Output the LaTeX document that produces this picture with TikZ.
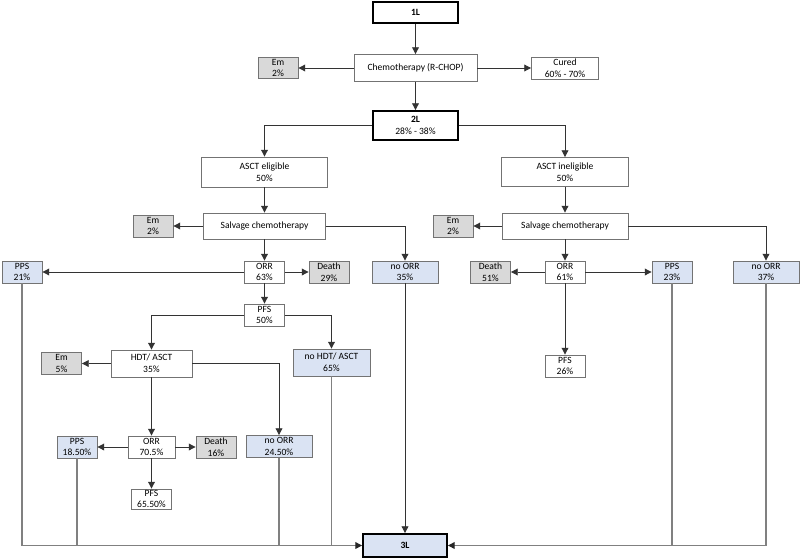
\documentclass[tikz,border=0pt]{standalone}
\usepackage{fontspec}
\setmainfont{Carlito}
\definecolor{paleblue}{RGB}{218,227,243}
\definecolor{palegrey}{RGB}{217,217,217}
\usetikzlibrary{arrows.meta}

\begin{document}
\begin{tikzpicture}[x=0.025cm, y=-0.025cm,
  box/.style={draw=black!55, line width=0.6pt, fill=white, align=center, inner sep=0.5pt,
              minimum width=1cm, minimum height=0.55cm, font=\fontsize{6.8}{8.3}\selectfont},
  exitbox/.style={box, fill=palegrey},
  nextbox/.style={box, fill=paleblue},
  stage/.style={box, draw=black, line width=1.3pt},
  link/.style={draw=black!80, line width=0.65pt, -{Triangle[length=0.17cm, width=0.17cm]}},
  feed/.style={draw=black!50, line width=0.8pt},
  intake/.style={-{Triangle[length=0.17cm, width=0.17cm, color=black!85]}}
]
\useasboundingbox (0,0) rectangle (800,558);

% First line
\node[stage, minimum width=2.125cm, minimum height=0.525cm] (l1) at (415.5,12.5) {\textbf{1L}};
\node[box, minimum width=3.075cm, minimum height=0.675cm] (chemo) at (415.5,68) {Chemotherapy (R-CHOP)};
\node[exitbox, minimum height=0.525cm] (em1) at (278,68) {Em\\2\%};
\node[box, minimum width=1.675cm] (cured) at (565,68) {Cured\\60\% - 70\%};

% Second line
\node[stage, minimum width=2.125cm, minimum height=0.725cm] (l2) at (415.5,125.5) {\textbf{2L}\\28\% - 38\%};

% ASCT eligible branch
\node[box, minimum width=3.15cm, minimum height=0.75cm] (elig) at (264.5,172) {ASCT eligible\\50\%};
\node[box, minimum width=3.05cm, minimum height=0.65cm] (salvL) at (264.5,226) {Salvage chemotherapy};
\node[exitbox] (emL) at (153,226) {Em\\2\%};
\node[nextbox, minimum width=1.65cm] (norr35) at (405,272) {no ORR\\35\%};
\node[nextbox] (pps21) at (22,272) {PPS\\21\%};
\node[box] (orr63) at (264.5,272) {ORR\\63\%};
\node[exitbox] (death29) at (329,272) {Death\\29\%};
\node[box] (pfs50) at (264.5,315) {PFS\\50\%};
\node[box, minimum width=2.025cm, minimum height=0.675cm] (hdt) at (151.5,363.5) {HDT/ ASCT\\35\%};
\node[exitbox] (em5) at (61.5,363.5) {Em\\5\%};
\node[nextbox, minimum width=1.925cm, minimum height=0.675cm] (nohdt) at (331.5,362.5) {no HDT/ ASCT\\65\%};
\node[box, minimum width=1.175cm] (orr705) at (151.5,447) {ORR\\70.5\%};
\node[nextbox] (pps185) at (77,447) {PPS\\18.50\%};
\node[exitbox] (death16) at (216,447) {Death\\16\%};
\node[nextbox, minimum width=1.65cm] (norr245) at (279,446.5) {no ORR\\24.50\%};
\node[box, minimum height=0.5cm] (pfs655) at (151.5,499) {PFS\\65.50\%};

% ASCT ineligible branch
\node[box, minimum width=3.175cm, minimum height=0.725cm] (inelig) at (565,172) {ASCT ineligible\\50\%};
\node[box, minimum width=3.15cm, minimum height=0.65cm] (salvR) at (565,226) {Salvage chemotherapy};
\node[exitbox] (emR) at (453,226) {Em\\2\%};
\node[exitbox] (death51) at (490.5,272) {Death\\51\%};
\node[box] (orr61) at (565,272) {ORR\\61\%};
\node[nextbox] (pps23) at (672,272) {PPS\\23\%};
\node[nextbox, minimum width=1.65cm] (norr37) at (766,272) {no ORR\\37\%};
\node[box] (pfs26) at (565,366) {PFS\\26\%};

% Third line
\node[stage, fill=paleblue, minimum width=2.1cm, minimum height=0.575cm] (l3) at (405,545.5) {\textbf{3L}};

% Arrows
\draw[link] (l1) -- (chemo);
\draw[link] (chemo) -- (em1);
\draw[link] (chemo) -- (cured);
\draw[link] (chemo) -- (l2);
\draw[link] (l2.west) -| (elig);
\draw[link] (l2.east) -| (inelig);

\draw[link] (elig) -- (salvL);
\draw[link] (salvL) -- (emL);
\draw[link] (salvL.east) -| (norr35);
\draw[link] (salvL) -- (orr63);
\draw[link] (orr63) -- (pps21);
\draw[link] (orr63) -- (death29);
\draw[link] (orr63) -- (pfs50);
\draw[link] (pfs50.west) -| (hdt);
\draw[link] (pfs50.east) -| (nohdt);
\draw[link] (hdt) -- (em5);
\draw[link] (hdt) -- (orr705);
\draw[link] (hdt.east) -| (norr245);
\draw[link] (orr705) -- (pps185);
\draw[link] (orr705) -- (death16);
\draw[link] (orr705) -- (pfs655);

\draw[link] (inelig) -- (salvR);
\draw[link] (salvR) -- (emR);
\draw[link] (salvR.east) -| (norr37);
\draw[link] (salvR) -- (orr61);
\draw[link] (orr61) -- (death51);
\draw[link] (orr61) -- (pps23);
\draw[link] (orr61) -- (pfs26);

% Into 3L
\draw[feed, intake] (pps21) |- (l3.west);
\draw[feed] (pps185) -- (pps185 |- l3.west);
\draw[feed] (norr245) -- (norr245 |- l3.west);
\draw[feed] (nohdt) -- (nohdt |- l3.west);
\draw[link] (norr35) -- (l3);
\draw[feed, intake] (norr37) |- (l3.east);
\draw[feed] (pps23) -- (pps23 |- l3.east);
\end{tikzpicture}
\end{document}
